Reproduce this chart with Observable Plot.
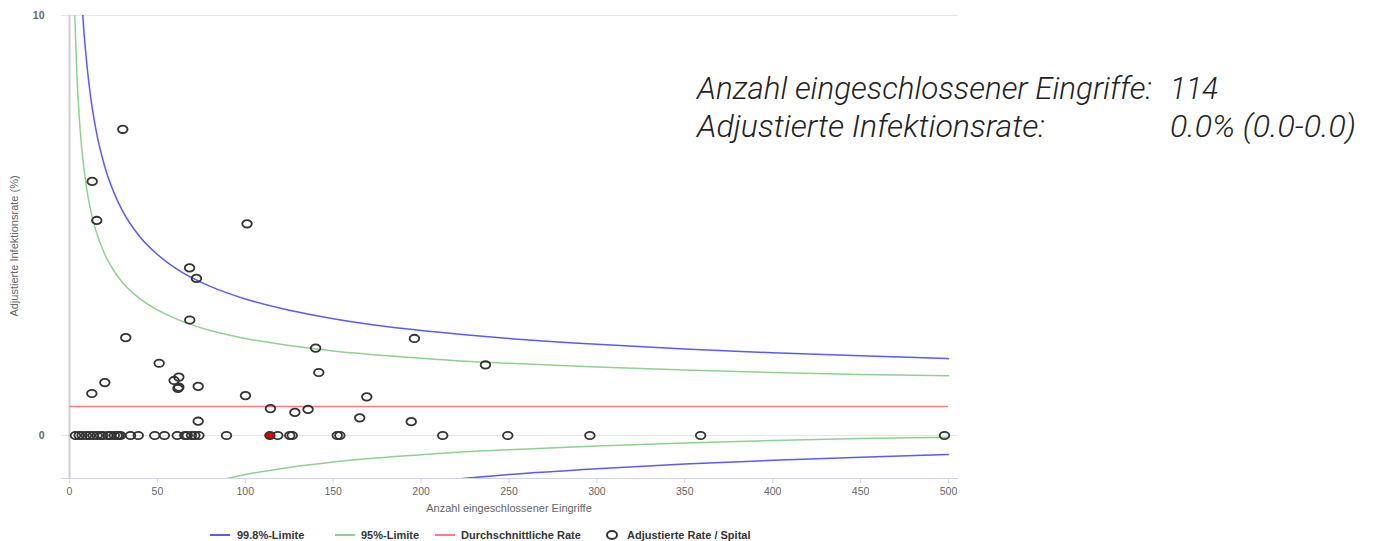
<!DOCTYPE html>
<html>
<head>
<meta charset="utf-8">
<script src="https://cdn.jsdelivr.net/npm/d3@7"></script>
<script src="https://cdn.jsdelivr.net/npm/@observablehq/plot@0.6"></script>
<style>
  html, body { margin: 0; padding: 0; background: #fff; }
  #wrap { position: relative; width: 1374px; height: 541px; overflow: hidden; font-family: "Liberation Sans", Arial, sans-serif; }
  #wrap svg { position: absolute; left: 0; top: 0; }
  .abs { position: absolute; white-space: nowrap; }
  .axtitle { font-size: 11px; color: #666; line-height: 14px; }
  .note { font-family: Roboto, "Liberation Sans", sans-serif; font-style: italic; font-weight: 300; font-size: 32px; line-height: 32px; color: #222; transform-origin: 0 50%; }
  .leg { font-size: 11px; font-weight: bold; color: #333; line-height: 14px; top: 528px; }
  .legline { position: absolute; top: 534px; height: 2px; width: 20px; }
</style>
</head>
<body>
<div id="wrap"></div>
<script>
// ---------- data ----------
const xTicks = [0, 50, 100, 150, 200, 250, 300, 350, 400, 450, 500];
const yTicks = [0, 10];
const yMin = -1.024; // lower end of the visible y range

// hospitals with a non-zero adjusted rate
const hospN    = [30.3, 12.9, 15.5, 101, 68.3, 72.2, 68.4, 32, 140, 196.2, 236.6, 51, 59.5, 62.2, 62.2, 61.7, 20.1, 12.7, 73.2, 100.1, 114.3, 128.2, 73.2, 135.7, 141.8, 169.1, 165.1, 194.4];
const hospRate = [7.29, 6.05, 5.12, 5.04, 3.99, 3.74, 2.75, 2.33, 2.08, 2.31, 1.68, 1.72, 1.31, 1.39, 1.15, 1.12, 1.26, 1.0, 1.17, 0.95, 0.64, 0.55, 0.34, 0.62, 1.50, 0.92, 0.42, 0.33];
// hospitals with rate 0
const zeroN = [3.4, 5.5, 7.2, 9.6, 11.5, 13.5, 15.7, 17.6, 19.0, 21.8, 23.3, 25.5, 27.1, 28.0, 29.0, 34.7, 39.1, 48.5, 54.0, 61.3, 65.6, 67.0, 69.4, 71.3, 73.6, 89.3, 118.5, 125.3, 126.7, 152.3, 153.8, 212.3, 249.3, 296, 359, 497.7];
const zeroRate = zeroN.map(() => 0);
// highlighted hospital
const ownN = [114];
const ownRate = [0];

// mean rate and control limits
const meanRate = 0.69;
const limitN   = [3, 4, 5, 6, 7, 8, 9, 10, 12, 15, 20, 25, 30, 40, 50, 60, 80, 90, 100, 125, 150, 200, 225, 250, 300, 350, 400, 450, 500];
const upper998 = [15.46, 13.48, 12.13, 11.13, 10.36, 9.73, 9.22, 8.78, 8.07, 7.29, 6.41, 5.81, 5.36, 4.73, 4.31, 3.99, 3.55, 3.39, 3.25, 2.98, 2.78, 2.50, 2.40, 2.31, 2.17, 2.06, 1.97, 1.90, 1.83];
const upper95  = [10.06, 8.80, 7.95, 7.31, 6.82, 6.43, 6.10, 5.82, 5.37, 4.88, 4.32, 3.94, 3.65, 3.26, 2.99, 2.79, 2.50, 2.40, 2.31, 2.14, 2.01, 1.84, 1.77, 1.72, 1.63, 1.56, 1.50, 1.45, 1.42];
const lower95  = [-8.68, -7.42, -6.57, -5.93, -5.44, -5.05, -4.72, -4.44, -3.99, -3.50, -2.94, -2.56, -2.27, -1.88, -1.61, -1.41, -1.12, -1.02, -0.93, -0.76, -0.63, -0.46, -0.39, -0.34, -0.25, -0.18, -0.12, -0.07, -0.04];
const lower998 = [-14.08, -12.10, -10.75, -9.75, -8.98, -8.35, -7.84, -7.40, -6.69, -5.91, -5.03, -4.43, -3.98, -3.35, -2.93, -2.61, -2.17, -2.01, -1.87, -1.60, -1.40, -1.12, -1.02, -0.93, -0.79, -0.68, -0.59, -0.52, -0.45];

const legendItems = ["99.8%-Limite", "95%-Limite", "Durchschnittliche Rate", "Adjustierte Rate / Spital"];
const noteLabels = ["Anzahl eingeschlossener Eingriffe:", "Adjustierte Infektionsrate:"];
const noteValues = ["114", "0.0% (0.0-0.0)"];

// ---------- styles ----------
const BLUE = "#5a5aff", GREEN = "#8fd28f", RED = "#ff7a7a";

const ellipse = {
  draw(context, size) {
    const r = Math.sqrt(size / Math.PI);
    const rx = r * 1.3, ry = r, k = 0.5523;
    context.moveTo(rx, 0);
    context.bezierCurveTo(rx, k * ry, k * rx, ry, 0, ry);
    context.bezierCurveTo(-k * rx, ry, -rx, k * ry, -rx, 0);
    context.bezierCurveTo(-rx, -k * ry, -k * rx, -ry, 0, -ry);
    context.bezierCurveTo(k * rx, -ry, rx, -k * ry, rx, 0);
    context.closePath();
  }
};

const pairs = (xs, ys) => xs.map((x, i) => [x, ys[i]]);

const plot = Plot.plot({
  width: 1374,
  height: 541,
  marginLeft: 61,
  marginRight: 416,
  marginTop: 15,
  marginBottom: 63,
  style: { fontFamily: "Liberation Sans, Arial, sans-serif", fontSize: "10.5px", color: "#666", background: "transparent" },
  x: { domain: [xTicks[0], xTicks[xTicks.length - 1]], insetLeft: 8, insetRight: 10 },
  y: { domain: [yMin, yTicks[yTicks.length - 1]] },
  marks: [
    Plot.gridY(yTicks, { stroke: "#e6e6e6", strokeOpacity: 1, strokeWidth: 1 }),
    Plot.ruleX([xTicks[0]], { stroke: "#cfcfcf", strokeWidth: 2 }),
    Plot.ruleY([yMin], { stroke: "#ccd6eb", strokeWidth: 1 }),
    Plot.axisX({ ticks: xTicks, tickSize: 5, tickPadding: 4, stroke: "#ccd6eb", fill: "#666", label: null }),
    Plot.axisY({ ticks: yTicks, tickSize: 0, tickPadding: 17, fill: "#666", fontWeight: "bold", label: null }),
    Plot.line(pairs(limitN, upper998), { curve: "monotone-x", stroke: BLUE, strokeWidth: 1.5, clip: true }),
    Plot.line(pairs(limitN, lower998), { curve: "monotone-x", stroke: BLUE, strokeWidth: 1.5, clip: true }),
    Plot.line(pairs(limitN, upper95), { curve: "monotone-x", stroke: GREEN, strokeWidth: 1.5, clip: true }),
    Plot.line(pairs(limitN, lower95), { curve: "monotone-x", stroke: GREEN, strokeWidth: 1.5, clip: true }),
    Plot.ruleY([meanRate], { x1: xTicks[0], x2: xTicks[xTicks.length - 1], stroke: RED, strokeWidth: 1.5 }),
    Plot.dot(pairs(zeroN, zeroRate), { symbol: ellipse, r: 3.7, stroke: "#333", strokeWidth: 1.8, fill: "none" }),
    Plot.dot(pairs(hospN, hospRate), { symbol: ellipse, r: 3.7, stroke: "#333", strokeWidth: 1.8, fill: "none" }),
    Plot.dot(pairs(ownN, ownRate), { symbol: ellipse, r: 3.7, stroke: "#333", strokeWidth: 1.8, fill: "#e00000" })
  ]
});

const wrap = document.getElementById("wrap");
wrap.appendChild(plot);

function addDiv(cls, text, css) {
  const d = document.createElement("div");
  d.className = "abs " + cls;
  d.textContent = text;
  Object.assign(d.style, css);
  wrap.appendChild(d);
  return d;
}

// axis titles
addDiv("axtitle", "Anzahl eingeschlossener Eingriffe", { left: "509px", top: "501px", transform: "translateX(-50%)" });
addDiv("axtitle", "Adjustierte Infektionsrate (%)", { left: "14px", top: "246px", transform: "translate(-50%,-50%) rotate(-90deg)" });

// legend
const legLeft = [237, 361, 461, 627];
const legLineLeft = [210, 335, 435];
const legColors = [BLUE, GREEN, RED];
legLineLeft.forEach((l, i) => {
  const s = document.createElement("div");
  s.className = "legline";
  s.style.left = l + "px";
  s.style.background = legColors[i];
  wrap.appendChild(s);
});
const sym = document.createElement("div");
Object.assign(sym.style, { position: "absolute", left: "606px", top: "530px", width: "8px", height: "6px", border: "2px solid #333", borderRadius: "50%" });
wrap.appendChild(sym);
legendItems.forEach((t, i) => addDiv("leg", t, { left: legLeft[i] + "px" }));

// annotation
const noteTop = [72, 110];
const labelWidth = [455, 348];
const valueWidth = [48, 186];
noteLabels.forEach((t, i) => {
  const a = addDiv("note", t, { left: "697px", top: noteTop[i] + "px" });
  const b = addDiv("note", noteValues[i], { left: "1170px", top: noteTop[i] + "px" });
  const wa = a.getBoundingClientRect().width, wb = b.getBoundingClientRect().width;
  a.style.transform = "scaleX(" + (labelWidth[i] / wa) + ")";
  b.style.transform = "scaleX(" + (valueWidth[i] / wb) + ")";
});
</script>
</body>
</html>
